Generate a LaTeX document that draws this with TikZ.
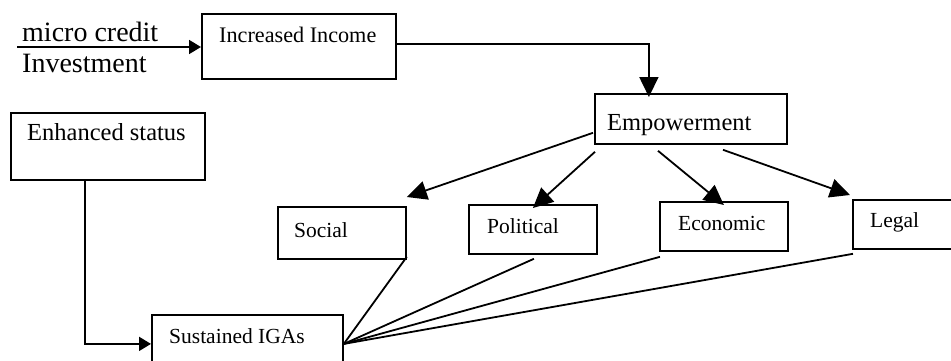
\documentclass[tikz,border=0pt]{standalone}
\usepackage{fontspec}
\setmainfont{Liberation Serif}
\usetikzlibrary{arrows.meta}
\tikzset{
  box/.style={draw, line width=1.8pt, rectangle, inner sep=0pt, anchor=north west},
  txt/.style={anchor=base west, inner sep=0pt},
  conn/.style={line width=1.8pt},
  arr/.style={conn, -{Triangle[length=20pt,width=19pt]}},
  arrs/.style={conn, -{Triangle[length=12pt,width=14pt]}},
}
\begin{document}
\begin{tikzpicture}[x=1pt,y=-1pt]
\useasboundingbox (0,0) rectangle (951,360);
\clip (0,0) rectangle (951,360);
% boxes
\node[box, minimum width=194pt, minimum height=65pt] (inc) at (201,13) {};
\node[box, minimum width=192pt, minimum height=50pt] (emp) at (594,93) {};
\node[box, minimum width=194pt, minimum height=67pt] (enh) at (10,112) {};
\node[box, minimum width=128pt, minimum height=52pt] (soc) at (277,206) {};
\node[box, minimum width=128pt, minimum height=49pt] (pol) at (468,204) {};
\node[box, minimum width=128pt, minimum height=49pt] (eco) at (659,201) {};
\node[box, minimum width=120pt, minimum height=49pt] (leg) at (852,199) {};
\node[box, minimum width=191pt, minimum height=58pt] (sus) at (151,314) {};
% texts
\node[txt, font=\fontsize{28}{30}\selectfont] (tmc) at (22,41) {micro credit};
\node[txt, font=\fontsize{28}{30}\selectfont] (tinv) at (22,72) {Investment};
\node[txt, font=\fontsize{22.2}{25}\selectfont] (tinc) at (219,42) {Increased Income};
\node[txt, font=\fontsize{24.5}{27}\selectfont] (temp) at (607,130) {Empowerment};
\node[txt, font=\fontsize{24.5}{27}\selectfont] (tenh) at (27,140) {Enhanced status};
\node[txt, font=\fontsize{21.5}{24}\selectfont] (tsoc) at (294,237) {Social};
\node[txt, font=\fontsize{21.5}{24}\selectfont] (tpol) at (487,233) {Political};
\node[txt, font=\fontsize{21.5}{24}\selectfont] (teco) at (678,230) {Economic};
\node[txt, font=\fontsize{21.5}{24}\selectfont] (tleg) at (870,227) {Legal};
\node[txt, font=\fontsize{21.5}{24}\selectfont] (tsus) at (169,343) {Sustained IGAs};
% connectors
\coordinate (src) at (17,47);
\draw[arrs] (src) -- (src -| inc.west);
\draw[arr] ([yshift=2.5]inc.east) -| ([xshift=-42,yshift=-4]emp.north);
\draw[arrs] ([xshift=-23]enh.south) |- (sus.west);
\draw[arr] ([shift={(-1,-12)}]emp.south west) -- ([shift={(0,-9)}]soc.north east);
\draw[arr] ([shift={(1,7)}]emp.south west) -- ([yshift=-4]pol.north);
\draw[arr] ([shift={(64,6)}]emp.south west) -- ([yshift=-4]eco.north);
\draw[arr] ([shift={(129,5)}]emp.south west) -- ([shift={(-2,-4)}]leg.north west);
\draw[conn] ([yshift=3]soc.south east) -- (sus.east);
\draw[conn] ([shift={(1,4)}]pol.south) -- (sus.east);
\draw[conn] ([shift={(1,5)}]eco.south west) -- (sus.east);
\draw[conn] ([shift={(1,4)}]leg.south west) -- (sus.east);
\end{tikzpicture}
\end{document}
